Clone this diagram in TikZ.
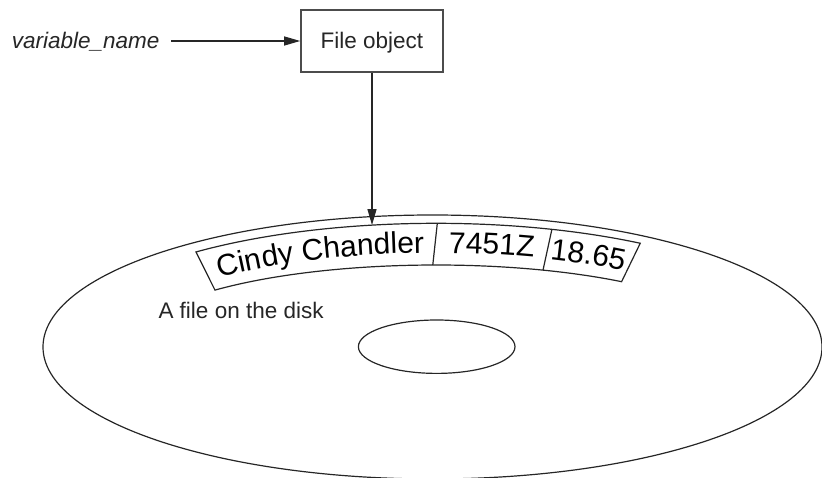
\documentclass[tikz,border=0pt]{standalone}
\usepackage{fontspec}
\setmainfont{Liberation Sans}
\usetikzlibrary{arrows.meta,decorations.text,calc}
\newcommand\bandfont{\fontsize{30}{36}\selectfont}

\begin{document}
\begin{tikzpicture}[x=1pt,y=1pt,
  outline/.style={draw=black!85, line width=1.2pt},
  conn/.style={draw=black!85, line width=1.2pt, -{Triangle[length=16pt,width=9pt]}},
  objbox/.style={draw=black!70, line width=1.6pt, minimum width=142pt, minimum height=62pt,
    inner sep=0pt, text height=16pt, text depth=0pt, text=black!85,
    font=\fontsize{22.5}{27}\selectfont},
  plain/.style={inner sep=0pt, text=black!85, font=\fontsize{22.5}{27}\selectfont},
]
\useasboundingbox (0,0) rectangle (822,477);
\coordinate (disk) at (432.5,130);
\coordinate (ring) at (436,130);

% disk outline and spindle hole
\draw[outline] (disk) ellipse [x radius=389.5pt, y radius=132pt];
\draw[outline] (436.7,130.3) ellipse [x radius=78.3pt, y radius=26.7pt];

% curved record strip
\draw[outline, fill=white]
  ($(ring)+(129.8:375pt and 123.7pt)$)
    arc[start angle=129.8, end angle=57, x radius=375pt, y radius=123.7pt]
  -- ($(ring)+(52.8:307pt and 82pt)$)
    arc[start angle=52.8, end angle=136.05, x radius=307pt, y radius=82pt]
  -- cycle;
\draw[outline] ($(ring)+(89.8:375pt and 123.7pt)$) -- ($(ring)+(90.6:307pt and 82pt)$);
\draw[outline] ($(ring)+(72:375pt and 123.7pt)$) -- ($(ring)+(69.6:307pt and 82pt)$);

% field values set along the strip
\path[decorate, decoration={text along path, text align=center,
    text={|\bandfont|Cindy Chandler}}]
  ($(ring)+(134.9:320pt and 94pt)$)
    arc[start angle=134.9, end angle=90.4, x radius=320pt, y radius=94pt];
\path[decorate, decoration={text along path, text align=center,
    text={|\bandfont|7451Z}}]
  ($(ring)+(89.6:320pt and 94pt)$)
    arc[start angle=89.6, end angle=70.2, x radius=320pt, y radius=94pt];
\path[decorate, decoration={text along path, text align=center,
    text={|\bandfont|18.65}}]
  ($(ring)+(69.6:320pt and 94pt)$)
    arc[start angle=69.6, end angle=53.5, x radius=320pt, y radius=94pt];

% file object and its reference
\node[objbox] (fobj) at (372,436) {File object};
\node[plain, anchor=base west, font=\fontsize{22.5}{27}\selectfont\itshape] (var)
  at (11.7,428.7) {variable\_name};
\draw[conn, shorten <=11.7pt] (fobj.west -| var.east) -- (fobj.west);

\coordinate (hit) at ($(ring)+(99.8:375pt and 123.7pt)$);
\draw[conn] (fobj.south) -- (fobj.south |- hit);

\node[plain, anchor=base west] (lbl) at (158.3,158.7) {A file on the disk};
\end{tikzpicture}
\end{document}
